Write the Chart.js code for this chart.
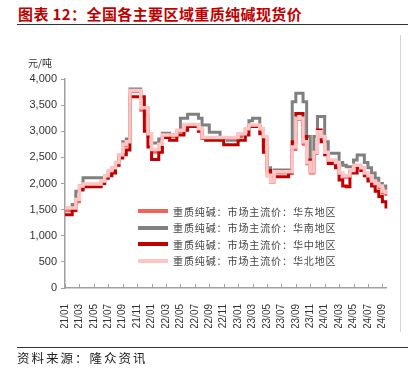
<!DOCTYPE html>
<html>
<head>
<meta charset="utf-8">
<script src="https://cdn.jsdelivr.net/npm/chart.js@4.4.1/dist/chart.umd.min.js"></script>
<style>
  body { margin: 0; background: #fff; font-family: "Noto Sans CJK SC", sans-serif; }
  #wrap { position: relative; width: 413px; height: 373px; overflow: hidden; }
  #title { position: absolute; left: 18px; top: 3px; font-size: 15px; font-weight: bold; color: #c00000; white-space: nowrap; letter-spacing: 0.4px; }
  .rule { position: absolute; left: 17px; width: 391px; height: 1px; background: #333; }
  #unit { position: absolute; left: 28px; top: 55px; font-size: 10px; color: #333; }
  #source { position: absolute; left: 17px; top: 348px; font-size: 12.5px; color: #222; letter-spacing: 2px; }
  #frame { position: absolute; left: 400px; top: 35px; width: 1px; height: 297px; background: #d4d4d4; }
  #legend { position: absolute; left: 138px; top: 203px; }
  .item { display: flex; align-items: center; height: 16.5px; font-size: 10px; color: #444; letter-spacing: 0.9px; white-space: nowrap; }
  .swatch { width: 30px; height: 4px; margin-right: 5px; }
  canvas { position: absolute; left: 0; top: 0; }
</style>
</head>
<body>
<div id="wrap">
  <div id="title">图表 12：全国各主要区域重质纯碱现货价</div>
  <div class="rule" style="top:24px"></div>
  <div id="frame"></div>
  <canvas id="chart" width="413" height="373"></canvas>
  <div id="unit">元/吨</div>
  <div id="legend"></div>
  <div class="rule" style="top:347px"></div>
  <div id="source">资料来源：隆众资讯</div>
</div>
<script>
// half-month dates, 21/01/01 .. 24/09/16
const dates = [];
for (let y = 21; y <= 24; y++) {
  for (let m = 1; m <= 12; m++) {
    if (y === 24 && m > 9) break;
    const mm = String(m).padStart(2, '0');
    dates.push(`${y}/${mm}/01`, `${y}/${mm}/16`);
  }
}

const seriesNames = [
  '重质纯碱：市场主流价：华东地区',
  '重质纯碱：市场主流价：华南地区',
  '重质纯碱：市场主流价：华中地区',
  '重质纯碱：市场主流价：华北地区'
];

const eastChina = [
  1480, 1480, 1480, 1650, 1900, 1960, 1960, 1960, 1960, 1960,
  2020, 2120, 2220, 2300, 2400, 2530, 2720, 2780, 3760, 3760,
  3760, 3400, 3300, 2900, 2600, 2600, 2700, 2900, 2900, 2900,
  2900, 3000, 3000, 3100, 3100, 3100, 3100, 3020, 2860, 2860,
  2860, 2860, 2860, 2860, 2860, 2860, 2860, 2860, 2930, 2930,
  3030, 3100, 3100, 3100, 3020, 2850, 2150, 2030, 2200, 2200,
  2200, 2200, 2200, 2650, 3230, 3230, 2750, 2380, 2200, 2580,
  2970, 2880, 2580, 2430, 2430, 2380, 2180, 2120, 2120, 2230,
  2330, 2330, 2280, 2180, 2120, 2020, 1970, 1920, 1820, 1760
];

const southChina = [
  1525, 1525, 1600, 1850, 1950, 2110, 2110, 2110, 2110, 2110,
  2110, 2150, 2200, 2250, 2400, 2550, 2800, 2850, 3810, 3810,
  3810, 3445, 3445, 2930, 2775, 2775, 2850, 2960, 2960, 2930,
  2930, 3000, 3250, 3250, 3325, 3325, 3325, 3250, 3120, 3120,
  2980, 2980, 2980, 2865, 2865, 2830, 2830, 2830, 2900, 2950,
  3050, 3200, 3250, 3250, 3050, 2700, 2300, 2100, 2260, 2260,
  2260, 2260, 2260, 3565, 3725, 3725, 3565, 2900, 2450, 2900,
  3280, 3280, 2800, 2580, 2580, 2580, 2400, 2350, 2320, 2320,
  2450, 2545, 2545, 2400, 2300, 2200, 2100, 2000, 1950, 1875
];

const centralChina = [
  1400, 1400, 1490, 1700, 1875, 1940, 1940, 1940, 1940, 1940,
  2000, 2100, 2150, 2200, 2350, 2490, 2550, 2640, 3660, 3660,
  3660, 3660, 3000, 2700, 2460, 2460, 2600, 2880, 2880, 2830,
  2830, 2930, 2930, 3020, 3090, 3090, 3090, 3000, 2870, 2830,
  2830, 2830, 2830, 2830, 2740, 2740, 2740, 2740, 2830, 2830,
  2930, 3090, 3090, 3090, 2950, 2600, 2250, 2035, 2130, 2130,
  2130, 2130, 2200, 2800, 3340, 3340, 2900, 2450, 2225, 2600,
  3025, 2800, 2550, 2385, 2385, 2300, 2065, 1950, 1940, 2200,
  2200, 2300, 2250, 2150, 2050, 1950, 1850, 1750, 1650, 1520
];

const northChina = [
  1530, 1530, 1530, 1700, 1950, 1990, 1990, 1990, 1990, 1990,
  2050, 2150, 2250, 2300, 2400, 2550, 2750, 2800, 3780, 3780,
  3780, 3450, 3450, 2950, 2650, 2650, 2750, 2930, 2930, 2930,
  2930, 3020, 3020, 3130, 3130, 3130, 3130, 3050, 2880, 2880,
  2880, 2880, 2880, 2880, 2880, 2880, 2880, 2880, 2950, 2950,
  3050, 3120, 3120, 3120, 3050, 2900, 2160, 2035, 2225, 2225,
  2225, 2225, 2225, 2700, 3250, 3250, 2800, 2400, 2225, 2600,
  2990, 2900, 2600, 2450, 2450, 2400, 2200, 2150, 2150, 2250,
  2350, 2350, 2300, 2200, 2150, 2050, 2000, 1950, 1850, 1800
];

const colors = ['#f4625e', '#808080', '#c00000', '#ffc4c4'];
const axisColor = '#a0a0a0';

// x ticks point into the plot
const innerTicks = {
  id: 'innerTicks',
  beforeDatasetsDraw(chart) {
    const { ctx, scales: { x } } = chart;
    ctx.save();
    ctx.strokeStyle = axisColor;
    ctx.lineWidth = 1;
    x.ticks.forEach(t => {
      const px = Math.round(x.getPixelForValue(t.value)) + 0.5;
      ctx.beginPath();
      ctx.moveTo(px, x.top);
      ctx.lineTo(px, x.top - 4);
      ctx.stroke();
    });
    ctx.restore();
  }
};

const values = [eastChina, southChina, centralChina, northChina];
const drawOrder = [3, 4, 2, 1];
const widths = [3, 3, 3, 3.5];

const ctx = document.getElementById('chart').getContext('2d');
const chart = new Chart(ctx, {
  type: 'line',
  data: {
    labels: dates,
    datasets: seriesNames.map((name, i) => ({
      label: name,
      data: values[i],
      borderColor: colors[i],
      backgroundColor: colors[i],
      borderWidth: widths[i],
      stepped: true,
      pointRadius: 0,
      order: drawOrder[i]
    }))
  },
  options: {
    responsive: false,
    animation: false,
    layout: { padding: { left: 0, right: 27, top: 79, bottom: 45 } },
    plugins: { legend: { display: false }, tooltip: { enabled: false } },
    scales: {
      x: {
        type: 'category',
        offset: false,
        grid: { display: false },
        border: { color: axisColor, width: 1.5 },
        ticks: {
          autoSkip: false,
          maxRotation: 90,
          minRotation: 90,
          padding: 8,
          color: '#333',
          font: { size: 10, family: '"Liberation Sans", Arial, sans-serif' },
          callback: v => dates[v].slice(0, 5)
        },
        afterBuildTicks: s => { s.ticks = s.ticks.filter(t => t.value % 4 === 0); },
        afterFit: s => { s.height = 40; }
      },
      y: {
        min: 0,
        max: 4000,
        grid: { drawOnChartArea: false, tickLength: 4, color: axisColor },
        border: { color: axisColor, width: 1.5 },
        ticks: {
          stepSize: 500,
          padding: 4,
          color: '#333',
          font: { size: 11, family: '"Liberation Sans", Arial, sans-serif' },
          callback: v => v.toLocaleString('en-US')
        },
        afterFit: s => { s.width = 65; }
      }
    }
  },
  plugins: [innerTicks]
});

// legend built from the datasets
const legend = document.getElementById('legend');
chart.data.datasets.forEach(ds => {
  const row = document.createElement('div');
  row.className = 'item';
  row.innerHTML = `<span class="swatch" style="background:${ds.borderColor}"></span>${ds.label}`;
  legend.appendChild(row);
});
</script>
</body>
</html>
